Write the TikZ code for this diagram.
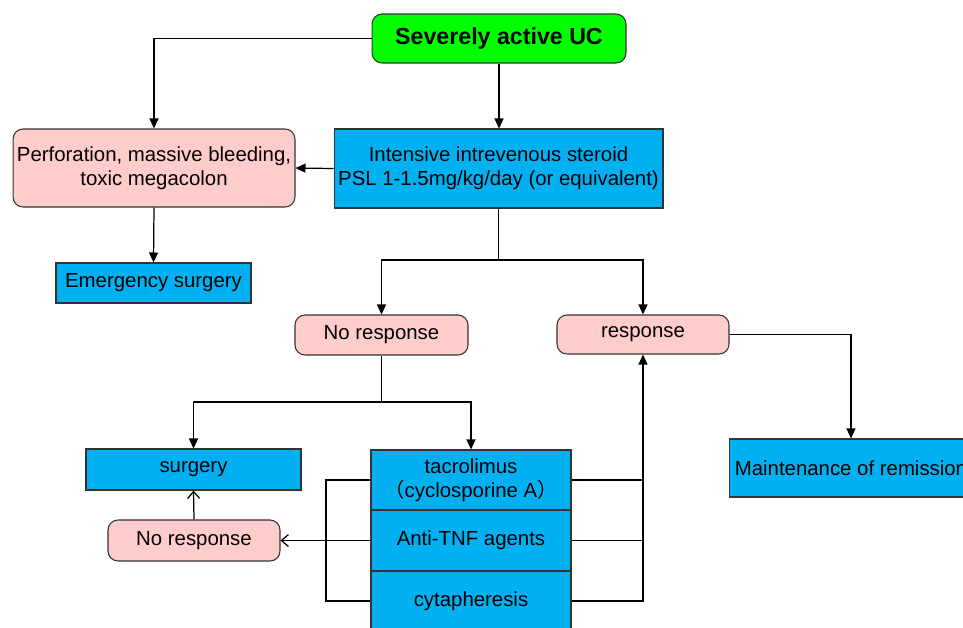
\documentclass[tikz,border=0pt]{standalone}
\usepackage{fontspec}
\setmainfont{Liberation Sans}
\newfontfamily\cjk{Noto Sans CJK SC}
\usetikzlibrary{arrows.meta}
\definecolor{ucgreen}{HTML}{00FF00}
\definecolor{boxcyan}{HTML}{00B0F0}
\definecolor{boxpink}{HTML}{FFCCCC}
\tikzset{%
  >={Triangle[width=1.8mm,length=2mm]},
  % Specifications for style of nodes:
            base/.style = {rectangle, draw=black!80, line width=0.6pt,
                           inner sep=0pt, align=center,
                           font=\fontsize{11.6}{13.7}\selectfont},
           start/.style = {base, rounded corners=0.2cm, fill=ucgreen,
                           font=\fontsize{13.2}{15}\selectfont\bfseries},
         outcome/.style = {base, rounded corners=0.2cm, fill=boxpink},
       treatment/.style = {base, fill=boxcyan},
            barb/.style = {-{Straight Barb[width=2.4mm,length=1.4mm]}},
}

\begin{document}
\begin{tikzpicture}[x=0.02cm, y=-0.02cm, line width=0.7pt]
\clip (0,0) rectangle (963,627);

\node (UC)       [start, minimum width=5.08cm, minimum height=0.98cm]
                 at (499,38.5)  {Severely active UC};

\node (Perf)     [outcome, minimum width=5.64cm, minimum height=1.56cm]
                 at (154,168)   {Perforation, massive bleeding,\\toxic megacolon};

\node (Steroid)  [treatment, minimum width=6.58cm, minimum height=1.58cm]
                 at (498.5,168.5) {Intensive intrevenous steroid\\PSL 1-1.5mg/kg/day (or equivalent)};

\node (Emerg)    [treatment, minimum width=3.9cm, minimum height=0.8cm]
                 at (153.5,283) {Emergency surgery};

\node (NoResp)   [outcome, minimum width=3.46cm, minimum height=0.8cm]
                 at (381.5,335) {No response};

\node (Resp)     [outcome, minimum width=3.44cm, minimum height=0.78cm]
                 at (643,334.5) {response};

\node (Surgery)  [treatment, minimum width=4.3cm, minimum height=0.82cm]
                 at (193.5,469.5) {surgery};

\node (NoResp2)  [outcome, minimum width=3.44cm, minimum height=0.82cm]
                 at (194,540.5) {No response};

\node (Tacro)    [treatment, minimum width=4cm, minimum height=1.2cm]
                 at (471,480)   {tacrolimus\\{\cjk（}cyclosporine A{\cjk）}};

\node (AntiTNF)  [treatment, minimum width=4cm, minimum height=1.22cm]
                 at (471,540.5) {Anti-TNF agents};

\node (Cyta)     [treatment, minimum width=4cm, minimum height=1.2cm]
                 at (471,601)   {cytapheresis};

\node (Maint)    [treatment, minimum width=4.88cm, minimum height=1.16cm]
                 at (851,468)   {Maintenance of remission};

\coordinate (split1) at (498.5,260);
\coordinate (split2) at (381.5,402);
\coordinate (busTop) at (326,480);
\coordinate (busBot) at (326,601);

\draw[->]  (UC.west) -| (Perf.north);
\draw[->]  (UC.south) -- (UC.south |- Steroid.north);
\draw[->]  (Steroid.west) -- (Perf.east);
\draw[->]  (Perf.south) -- (Emerg.north);
\draw      (Steroid.south) -- (split1);
\draw[->]  (split1) -| (NoResp.north);
\draw[->]  (split1) -| (Resp.north);
\draw      (NoResp.south) -- (split2);
\draw[->]  (split2) -| (Surgery.north);
\draw[->]  (split2) -| (Tacro.north);
\draw      (Tacro.west) -- (busTop) -- (busBot) -- (Cyta.west);
\draw[barb] (AntiTNF.west) -- (NoResp2.east);
\draw[barb] (NoResp2.north) -- (Surgery.south);
\draw      (Tacro.east) -- (Tacro.east -| Resp.south);
\draw      (AntiTNF.east) -- (AntiTNF.east -| Resp.south);
\draw[->]  (Cyta.east) -| (Resp.south);
\draw[->]  (Resp.east) -| (Maint.north);
\end{tikzpicture}
\end{document}
